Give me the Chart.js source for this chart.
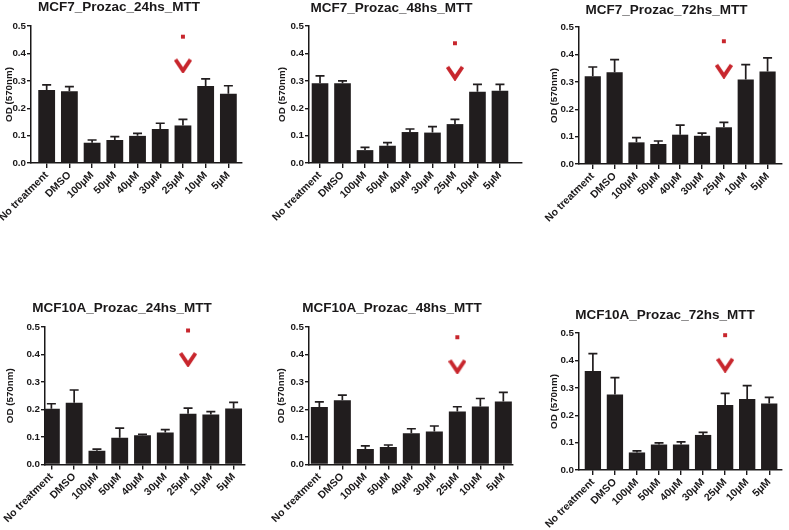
<!DOCTYPE html>
<html>
<head>
<meta charset="utf-8">
<script src="https://cdn.jsdelivr.net/npm/chart.js@4.4.1/dist/chart.umd.min.js"></script>
<style>
  html, body { margin: 0; padding: 0; background: #fff; }
  body { position: relative; width: 789px; height: 530px; overflow: hidden; }
  canvas { position: absolute; }
</style>
</head>
<body>
<script>
// data (OD at 570nm, mean and upward SEM)
const categories = ["No treatment", "DMSO", "100\u03bcM", "50\u03bcM", "40\u03bcM", "30\u03bcM", "25\u03bcM", "10\u03bcM", "5\u03bcM"];
const yTicks = [0, 0.1, 0.2, 0.3, 0.4, 0.5];

const mcf7_24h     = [0.266, 0.262, 0.074, 0.084, 0.099, 0.124, 0.137, 0.281, 0.253];
const mcf7_24h_sem = [0.019, 0.017, 0.010, 0.012, 0.009, 0.021, 0.022, 0.026, 0.029];
const mcf7_48h     = [0.291, 0.291, 0.047, 0.063, 0.113, 0.111, 0.142, 0.260, 0.264];
const mcf7_48h_sem = [0.027, 0.009, 0.010, 0.011, 0.011, 0.022, 0.017, 0.027, 0.023];
const mcf7_72h     = [0.320, 0.335, 0.079, 0.073, 0.107, 0.103, 0.134, 0.308, 0.338];
const mcf7_72h_sem = [0.034, 0.046, 0.017, 0.011, 0.035, 0.010, 0.018, 0.055, 0.049];
const mcf10a_24h     = [0.203, 0.225, 0.050, 0.097, 0.106, 0.116, 0.185, 0.182, 0.204];
const mcf10a_24h_sem = [0.018, 0.046, 0.006, 0.035, 0.004, 0.011, 0.020, 0.010, 0.022];
const mcf10a_48h     = [0.209, 0.234, 0.056, 0.064, 0.114, 0.120, 0.193, 0.211, 0.229];
const mcf10a_48h_sem = [0.019, 0.018, 0.012, 0.007, 0.016, 0.020, 0.017, 0.029, 0.033];
const mcf10a_72h     = [0.361, 0.276, 0.064, 0.093, 0.093, 0.128, 0.237, 0.259, 0.243];
const mcf10a_72h_sem = [0.064, 0.061, 0.006, 0.006, 0.010, 0.009, 0.043, 0.049, 0.022];

const titles = ["MCF7_Prozac_24hs_MTT", "MCF7_Prozac_48hs_MTT", "MCF7_Prozac_72hs_MTT",
                "MCF10A_Prozac_24hs_MTT", "MCF10A_Prozac_48hs_MTT", "MCF10A_Prozac_72hs_MTT"];

// red dot + chevron above the 25uM bar
const markedIndex = 6;
const dotY   = [0.461, 0.437, 0.448, 0.487, 0.463, 0.492];
const arrowY = [0.356, 0.329, 0.340, 0.383, 0.357, 0.384];

const FONT = "'Liberation Sans', Arial, Helvetica, sans-serif";
const INK = "#1a1819";
const BAR = "#211d1e";
const RED = "#c8262d";

// canvas box, plot area edges and x range for each panel
const panels = [
  { means: mcf7_24h,   sem: mcf7_24h_sem,   cx: -4,  cy: -1, cw: 254, ch: 241, L: 31,  R: 242, T: 26,  B: 163,   xMin: -0.69, xMax: 8.60, yTitleX: 9.5 },
  { means: mcf7_48h,   sem: mcf7_48h_sem,   cx: 261, cy: 0,  cw: 269, ch: 240, L: 309, R: 522, T: 26,  B: 163,   xMin: -0.49, xMax: 8.98, yTitleX: 281.7 },
  { means: mcf7_72h,   sem: mcf7_72h_sem,   cx: 544, cy: 2,  cw: 245, ch: 238, L: 579, R: 789, T: 27,  B: 164,   xMin: -0.63, xMax: 8.66, yTitleX: 553.8 },
  { means: mcf10a_24h, sem: mcf10a_24h_sem, cx: -1,  cy: 300, cw: 253, ch: 230, L: 45,  R: 245, T: 327, B: 464.5, xMin: -0.28, xMax: 8.50, yTitleX: 10 },
  { means: mcf10a_48h, sem: mcf10a_48h_sem, cx: 271, cy: 300, cw: 249, ch: 230, L: 309, R: 513, T: 327, B: 464.5, xMin: -0.45, xMax: 8.42, yTitleX: 281 },
  { means: mcf10a_72h, sem: mcf10a_72h_sem, cx: 541, cy: 307, cw: 248, ch: 223, L: 579, R: 789, T: 333, B: 470,   xMin: -0.63, xMax: 8.58, yTitleX: 554.3 },
];

function makeChevron() {
  const c = document.createElement("canvas");
  c.width = 18; c.height = 16;
  const g = c.getContext("2d");
  g.strokeStyle = RED;
  g.lineWidth = 3.9;
  g.lineJoin = "miter";
  g.beginPath();
  g.moveTo(1.5, 2);
  g.lineTo(9, 13.2);
  g.lineTo(16.5, 2);
  g.stroke();
  return c;
}
const chevron = makeChevron();

// upward-only error bars with a cap, like the GraphPad output
const errorBars = {
  id: "errorBars",
  afterDatasetsDraw(chart) {
    const sem = chart.options.plugins.errorBars.sem;
    const meta = chart.getDatasetMeta(0);
    const y = chart.scales.y;
    const ctx = chart.ctx;
    ctx.save();
    ctx.strokeStyle = BAR;
    ctx.lineWidth = 1.7;
    meta.data.forEach((bar, i) => {
      const v = chart.data.datasets[0].data[i].y;
      const top = y.getPixelForValue(v + sem[i]);
      ctx.beginPath();
      ctx.moveTo(bar.x, bar.y);
      ctx.lineTo(bar.x, top);
      ctx.moveTo(bar.x - 4.5, top);
      ctx.lineTo(bar.x + 4.5, top);
      ctx.stroke();
    });
    ctx.restore();
  }
};

panels.forEach((p, k) => {
  const cv = document.createElement("canvas");
  cv.width = p.cw; cv.height = p.ch;
  cv.style.left = p.cx + "px"; cv.style.top = p.cy + "px";
  cv.style.width = p.cw + "px"; cv.style.height = p.ch + "px";
  document.body.appendChild(cv);

  const titleSize = 13.5, titleLH = titleSize * 1.2;
  const axisFont = { family: FONT, size: 9.8, weight: "bold" };
  const yWidth = p.L - p.cx;
  const padRight = p.cx + p.cw - p.R;
  const xHeight = p.cy + p.ch - p.B;
  const titleGap = p.T - p.cy - titleLH;
  const yTitlePad = p.yTitleX - p.cx - 5.7;

  new Chart(cv, {
    type: "bar",
    data: {
      datasets: [
        {
          type: "bar",
          data: p.means.map((v, i) => ({ x: i, y: v })),
          backgroundColor: BAR,
          borderWidth: 0,
          barPercentage: 1,
          categoryPercentage: 0.74,
        },
        {
          type: "scatter",
          data: [{ x: markedIndex, y: dotY[k] }],
          pointStyle: "rect",
          pointRadius: 2.8,
          backgroundColor: RED,
          borderWidth: 0,
        },
        {
          type: "scatter",
          data: [{ x: markedIndex, y: arrowY[k] }],
          pointStyle: chevron,
          pointRadius: 6,
        },
      ],
    },
    options: {
      responsive: false,
      animation: false,
      events: [],
      layout: { padding: { left: 0, right: padRight, top: 0, bottom: 0 } },
      plugins: {
        legend: { display: false },
        tooltip: { enabled: false },
        title: {
          display: true,
          text: titles[k],
          color: INK,
          font: { family: FONT, size: titleSize, weight: "bold", lineHeight: 1.2 },
          padding: { top: 0, bottom: titleGap },
        },
        errorBars: { sem: p.sem },
      },
      scales: {
        x: {
          type: "linear",
          min: p.xMin,
          max: p.xMax,
          offset: false,
          afterBuildTicks: (s) => { s.ticks = categories.map((c, i) => ({ value: i })); },
          afterFit: (s) => { s.height = xHeight; s.paddingLeft = 0; s.paddingRight = 0; },
          ticks: {
            autoSkip: false,
            minRotation: 45,
            maxRotation: 45,
            padding: 1,
            color: INK,
            font: { family: FONT, size: 10.5, weight: "bold" },
            callback: (v) => categories[v],
          },
          grid: { offset: false, drawOnChartArea: false, tickLength: 5, color: INK, lineWidth: 1.4 },
          border: { color: INK, width: 1.5 },
        },
        y: {
          min: 0,
          max: 0.5,
          afterBuildTicks: (s) => { s.ticks = yTicks.map((v) => ({ value: v })); },
          afterFit: (s) => { s.width = yWidth; s.paddingTop = 0; s.paddingBottom = 0; },
          ticks: {
            padding: 1,
            color: INK,
            font: axisFont,
            callback: (v) => Number(v).toFixed(1),
          },
          grid: { drawOnChartArea: false, tickLength: 4, color: INK, lineWidth: 1.4 },
          border: { color: INK, width: 1.5 },
          title: {
            display: true,
            text: "OD (570nm)",
            color: INK,
            font: { family: FONT, size: 9.8, weight: "bold", lineHeight: 1.2 },
            padding: { top: yTitlePad, bottom: 0 },
          },
        },
      },
    },
    plugins: [errorBars],
  });
});
</script>
</body>
</html>
